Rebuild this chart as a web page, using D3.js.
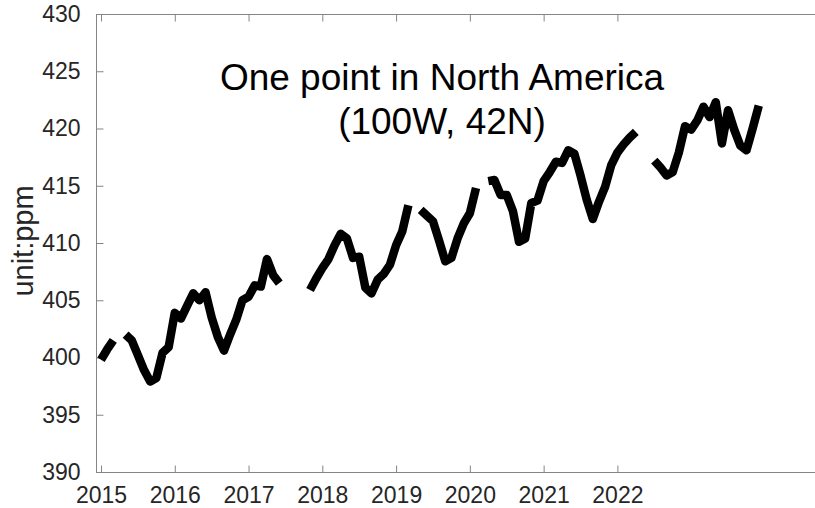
<!DOCTYPE html>
<html>
<head>
<meta charset="utf-8">
<script src="https://cdn.jsdelivr.net/npm/d3@7"></script>
<style>
  body { margin: 0; background: #fff; }
  svg { display: block; font-family: "Liberation Sans", Arial, Helvetica, sans-serif; }
</style>
</head>
<body>
<div id="chart"></div>
<script>
var WD = 815, HT = 508

// monthly CO2 (ppm), Jan 2015 .. Dec 2023, null = missing month
var startYear = 2015
var co2_2015 = [399.8, 400.7, 401.5, null, 402.0, 401.5, 400.2, 398.9, 397.9, 398.2, 400.4, 400.9]
var co2_2016 = [403.9, 403.4, 404.5, 405.6, 405.0, 405.7, 403.5, 401.8, 400.6, 402.0, 403.3, 405.0]
var co2_2017 = [405.3, 406.3, 406.2, 408.6, 407.2, 406.5, null, null, null, null, 405.9, 406.9]
var co2_2018 = [407.8, 408.6, 409.8, 410.8, 410.4, 408.7, 408.8, 406.1, 405.6, 406.8, 407.3, 408.1]
var co2_2019 = [409.8, 411.0, 413.3, null, 412.9, 412.4, 411.9, 410.2, 408.4, 408.7, 410.4, 411.7]
var co2_2020 = [412.6, 414.8, null, 415.4, 415.5, 414.2, 414.2, 412.8, 410.1, 410.4, 413.5, 413.7]
var co2_2021 = [415.4, 416.2, 417.1, 417.0, 418.1, 417.8, 415.9, 413.8, 412.1, 413.6, 414.9, 416.8]
var co2_2022 = [417.9, 418.6, 419.2, 419.7, null, null, 417.2, 416.6, 415.9, 416.2, 417.9, 420.2]
var co2_2023 = [419.9, 420.7, 421.9, 421.0, 422.3, 418.7, 421.6, 419.9, 418.5, 418.1, 420.0, 422.0]

var xTicks = [2015, 2016, 2017, 2018, 2019, 2020, 2021, 2022]
var yTicks = [390, 395, 400, 405, 410, 415, 420, 425, 430]
var titleLines = ["One point in North America", "(100W, 42N)"]

var co2 = [].concat(co2_2015, co2_2016, co2_2017, co2_2018, co2_2019, co2_2020, co2_2021, co2_2022, co2_2023)
var series = co2.map(function(v, i) { return { t: startYear + i / 12, v: v } })

var margin = { left: 96, top: 14, bottom: 472 }

var x = d3.scaleLinear().domain([2014.932, 2025]).range([margin.left, 838.7])
var y = d3.scaleLinear().domain([390, 430]).range([margin.bottom, margin.top])

var svg = d3.select("#chart").append("svg")
    .attr("width", WD)
    .attr("height", HT)

var axisCol = "#262626"
var tickLen = 7

// box
svg.append("rect")
    .attr("x", margin.left + 0.5).attr("y", margin.top + 0.5)
    .attr("width", x.range()[1] - margin.left).attr("height", margin.bottom - margin.top)
    .attr("fill", "none").attr("stroke", "#858585").attr("stroke-width", 1)

// bottom axis, ticks inward
var xAxis = svg.append("g")
    .attr("transform", "translate(0," + (margin.bottom + 0.5) + ")")
    .call(d3.axisBottom(x).tickValues(xTicks).tickFormat(d3.format("d")).tickSizeInner(-tickLen).tickSizeOuter(0).tickPadding(14))
xAxis.select(".domain").remove()

// top ticks
var xTop = svg.append("g")
    .attr("transform", "translate(0," + (margin.top + 0.5) + ")")
    .call(d3.axisTop(x).tickValues(xTicks).tickFormat("").tickSizeInner(-tickLen).tickSizeOuter(0))
xTop.select(".domain").remove()

// left axis
var yAxis = svg.append("g")
    .attr("transform", "translate(" + (margin.left + 0.5) + ",0)")
    .call(d3.axisLeft(y).tickValues(yTicks).tickFormat(d3.format("d")).tickSizeInner(-tickLen).tickSizeOuter(0).tickPadding(16))
yAxis.select(".domain").remove()

svg.selectAll(".tick line").attr("stroke", "#858585")
svg.selectAll(".tick text")
    .attr("fill", axisCol)
    .style("font-size", "23px")
    .style("font-family", "\"Liberation Sans\", Arial, Helvetica, sans-serif")

// y label
svg.append("text")
    .attr("transform", "translate(33,241) rotate(-90)")
    .attr("text-anchor", "middle")
    .attr("fill", axisCol)
    .style("font-size", "29px")
    .text("unit:ppm")

// data line
var line = d3.line()
    .defined(function(d) { return d.v != null })
    .x(function(d) { return x(d.t) })
    .y(function(d) { return y(d.v) })

svg.append("path")
    .datum(series)
    .attr("d", line)
    .attr("fill", "none")
    .attr("stroke", "#000")
    .attr("stroke-width", 8.5)
    .attr("stroke-linejoin", "round")
    .attr("stroke-linecap", "butt")

// title inside axes
svg.selectAll(".ttl")
    .data(titleLines)
    .enter().append("text")
    .attr("class", "ttl")
    .attr("x", 442)
    .attr("y", function(d, i) { return 90 + i * 44 })
    .attr("text-anchor", "middle")
    .attr("fill", "#000")
    .style("font-size", "37px")
    .text(function(d) { return d })
</script>
</body>
</html>
